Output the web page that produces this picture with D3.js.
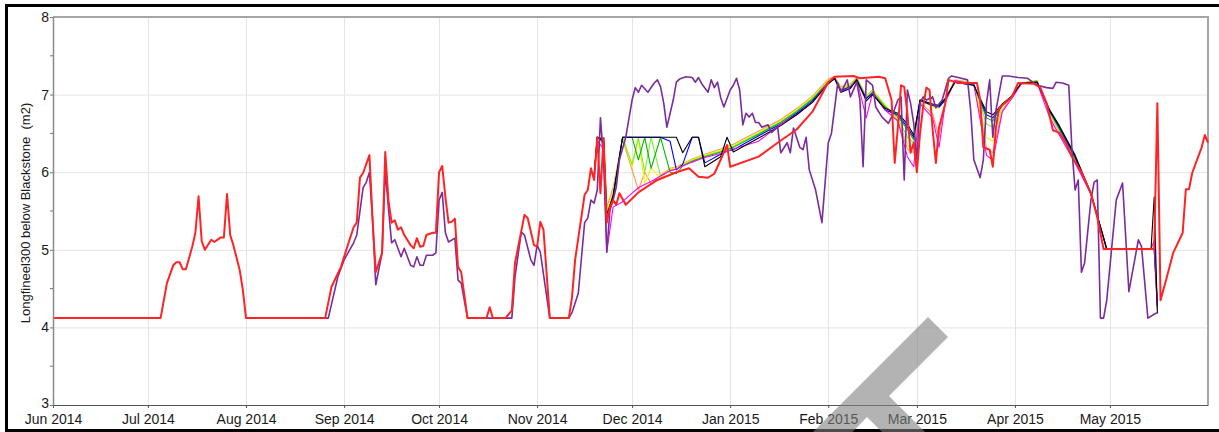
<!DOCTYPE html>
<html>
<head>
<meta charset="utf-8">
<script src="https://cdn.jsdelivr.net/npm/d3@7"></script>
<style>
  html, body { margin: 0; padding: 0; background: #fff; }
  svg { display: block; font-family: "Liberation Sans", Arial, sans-serif; }
</style>
</head>
<body>
<svg id="chart" width="1219" height="432"></svg>
<script>
// ---- data -------------------------------------------------------------
const yTickValues = [3, 4, 5, 6, 7, 8];
const yMinorTickValues = [3.5, 4.5, 5.5, 6.5, 7.5];
const yTitle = "Longfineel300 below Blackstone  (m2)";

// Observed / base run (red)
const redDates = ["2014-06-01","2014-07-05","2014-07-07","2014-07-09","2014-07-10","2014-07-11","2014-07-12","2014-07-13","2014-07-15","2014-07-16","2014-07-17","2014-07-18","2014-07-19","2014-07-21","2014-07-22","2014-07-24","2014-07-25","2014-07-26","2014-07-27","2014-07-28","2014-07-30","2014-07-31","2014-08-01","2014-08-26","2014-08-28","2014-08-31","2014-09-02","2014-09-04","2014-09-05","2014-09-06","2014-09-07","2014-09-09","2014-09-10","2014-09-11","2014-09-13","2014-09-14","2014-09-15","2014-09-16","2014-09-17","2014-09-18","2014-09-19","2014-09-20","2014-09-22","2014-09-23","2014-09-24","2014-09-25","2014-09-26","2014-09-27","2014-09-29","2014-09-30","2014-10-01","2014-10-02","2014-10-03","2014-10-04","2014-10-05","2014-10-06","2014-10-07","2014-10-08","2014-10-10","2014-10-16","2014-10-17","2014-10-18","2014-10-22","2014-10-24","2014-10-25","2014-10-28","2014-10-29","2014-10-31","2014-11-01","2014-11-02","2014-11-03","2014-11-05","2014-11-11","2014-11-12","2014-11-13","2014-11-16","2014-11-17","2014-11-18","2014-11-19","2014-11-20","2014-11-21","2014-11-22","2014-11-23","2014-11-24","2014-11-25","2014-11-26","2014-11-27","2014-11-29","2014-12-03","2014-12-09","2014-12-15","2014-12-19","2014-12-22","2014-12-25","2014-12-27","2014-12-29","2014-12-31","2015-01-01","2015-01-10","2015-01-16","2015-01-22","2015-01-27","2015-02-01","2015-02-03","2015-02-09","2015-02-11","2015-02-17","2015-02-19","2015-02-21","2015-02-22","2015-02-23","2015-02-24","2015-02-25","2015-02-26","2015-02-27","2015-02-28","2015-03-01","2015-03-02","2015-03-03","2015-03-04","2015-03-05","2015-03-06","2015-03-07","2015-03-08","2015-03-10","2015-03-11","2015-03-14","2015-03-20","2015-03-21","2015-03-22","2015-03-24","2015-03-25","2015-03-26","2015-03-27","2015-03-31","2015-04-02","2015-04-07","2015-04-09","2015-04-11","2015-04-13","2015-04-15","2015-04-17","2015-04-19","2015-04-21","2015-04-22","2015-04-25","2015-04-27","2015-04-29","2015-05-15","2015-05-16","2015-05-17","2015-05-19","2015-05-21","2015-05-24","2015-05-25","2015-05-26","2015-05-27","2015-05-30","2015-05-31","2015-06-01"];
const redValues = [4.12,4.12,4.57,4.80,4.84,4.84,4.75,4.75,5.04,5.22,5.69,5.11,5.00,5.13,5.10,5.16,5.16,5.72,5.19,5.06,4.74,4.48,4.12,4.12,4.52,4.78,5.04,5.29,5.35,5.93,5.99,6.22,5.38,4.71,4.96,6.26,5.64,5.35,5.38,5.26,5.29,5.19,5.06,5.02,5.15,5.04,5.05,5.19,5.22,5.22,6.00,6.08,5.68,5.35,5.36,5.40,4.78,4.71,4.12,4.12,4.26,4.12,4.12,4.22,4.83,5.45,5.41,5.06,5.04,5.36,5.26,4.12,4.12,4.38,4.87,5.71,5.77,6.05,5.90,6.45,5.73,6.44,5.35,5.55,5.64,5.58,5.73,5.58,5.74,5.90,6.00,6.05,5.94,5.93,5.98,6.16,6.35,6.07,6.20,6.38,6.55,6.78,7.16,7.23,7.24,7.21,7.23,7.21,6.93,6.12,6.58,7.12,7.10,6.76,6.25,6.38,6.00,6.50,6.85,7.09,7.06,6.54,6.12,6.58,6.89,7.19,7.15,7.15,6.93,6.32,6.29,6.07,6.58,6.83,6.97,7.15,7.14,7.09,6.89,6.54,6.51,6.38,6.20,6.07,6.00,5.73,5.42,5.01,5.01,6.89,4.35,4.65,4.96,5.22,5.78,5.78,5.99,6.32,6.48,6.38];

// Historical run (purple)
const purpleDates = ["2014-08-01","2014-08-27","2014-08-30","2014-09-01","2014-09-04","2014-09-05","2014-09-07","2014-09-08","2014-09-09","2014-09-10","2014-09-11","2014-09-13","2014-09-14","2014-09-15","2014-09-16","2014-09-17","2014-09-19","2014-09-20","2014-09-22","2014-09-23","2014-09-24","2014-09-25","2014-09-26","2014-09-27","2014-09-29","2014-09-30","2014-10-01","2014-10-02","2014-10-03","2014-10-04","2014-10-06","2014-10-07","2014-10-08","2014-10-10","2014-10-24","2014-10-25","2014-10-27","2014-10-28","2014-10-30","2014-10-31","2014-11-01","2014-11-02","2014-11-05","2014-11-11","2014-11-12","2014-11-14","2014-11-16","2014-11-17","2014-11-18","2014-11-19","2014-11-20","2014-11-21","2014-11-22","2014-11-23","2014-11-24","2014-11-25","2014-11-26","2014-11-27","2014-11-29","2014-12-01","2014-12-02","2014-12-03","2014-12-04","2014-12-06","2014-12-08","2014-12-09","2014-12-10","2014-12-11","2014-12-12","2014-12-14","2014-12-15","2014-12-16","2014-12-18","2014-12-20","2014-12-21","2014-12-22","2014-12-23","2014-12-25","2014-12-26","2014-12-27","2014-12-28","2014-12-29","2014-12-30","2015-01-01","2015-01-02","2015-01-03","2015-01-04","2015-01-05","2015-01-06","2015-01-07","2015-01-08","2015-01-09","2015-01-10","2015-01-11","2015-01-13","2015-01-14","2015-01-16","2015-01-17","2015-01-19","2015-01-20","2015-01-21","2015-01-23","2015-01-24","2015-01-25","2015-01-26","2015-01-28","2015-01-30","2015-02-01","2015-02-02","2015-02-04","2015-02-05","2015-02-07","2015-02-08","2015-02-10","2015-02-11","2015-02-12","2015-02-13","2015-02-15","2015-02-16","2015-02-18","2015-02-20","2015-02-21","2015-02-23","2015-02-24","2015-02-25","2015-02-26","2015-02-27","2015-02-28","2015-03-01","2015-03-02","2015-03-03","2015-03-04","2015-03-06","2015-03-07","2015-03-09","2015-03-11","2015-03-12","2015-03-15","2015-03-17","2015-03-18","2015-03-19","2015-03-21","2015-03-22","2015-03-23","2015-03-24","2015-03-25","2015-03-26","2015-03-28","2015-03-30","2015-04-02","2015-04-05","2015-04-08","2015-04-11","2015-04-13","2015-04-14","2015-04-16","2015-04-18","2015-04-19","2015-04-20","2015-04-21","2015-04-22","2015-04-23","2015-04-25","2015-04-26","2015-04-27","2015-04-28","2015-04-29","2015-04-30","2015-05-03","2015-05-05","2015-05-07","2015-05-10","2015-05-11","2015-05-13","2015-05-15","2015-05-16"];
const purpleValues = [4.12,4.12,4.65,4.87,5.09,5.19,5.80,5.87,6.00,5.38,4.55,4.96,6.03,5.54,5.09,5.13,4.91,5.02,4.80,4.78,4.91,4.80,4.80,4.93,4.93,4.96,5.64,5.74,5.22,5.10,5.15,4.61,4.57,4.12,4.12,4.65,5.23,5.19,4.87,4.80,5.06,4.97,4.12,4.12,4.19,4.44,5.35,5.41,5.64,5.60,5.77,6.70,6.16,4.97,5.51,5.64,5.81,6.16,6.45,6.93,7.09,7.03,7.12,7.03,7.15,7.19,7.10,6.89,6.58,6.93,7.16,7.20,7.23,7.22,7.16,7.22,7.14,7.03,7.19,7.09,7.16,6.96,6.84,7.06,7.12,7.21,7.06,6.61,6.76,6.71,6.76,6.64,6.64,6.58,6.61,6.51,6.58,6.25,6.38,6.25,6.57,6.32,6.29,6.45,6.03,5.77,5.35,6.38,6.50,7.15,7.03,7.19,6.97,7.16,6.93,6.07,7.19,7.12,6.84,6.71,6.63,6.71,6.93,6.97,5.90,7.06,6.89,6.63,6.16,6.89,6.97,6.93,6.97,6.83,6.93,7.21,7.24,7.21,7.19,6.80,6.16,5.93,6.16,6.89,7.19,6.45,6.80,7.24,7.24,7.22,7.21,7.12,7.09,7.08,7.16,7.15,7.12,6.30,5.77,5.90,4.71,4.83,5.64,5.87,5.90,4.12,4.12,4.35,5.64,5.86,4.46,5.13,5.04,4.12,4.17,4.19];

// Forecast ensemble members, all on one date grid
const ensembleDates = ["2014-11-19","2014-11-20","2014-11-22","2014-11-23","2014-11-25","2014-11-28","2014-12-01","2014-12-03","2014-12-05","2014-12-07","2014-12-10","2014-12-13","2014-12-15","2014-12-17","2014-12-20","2014-12-22","2014-12-24","2014-12-29","2014-12-31","2015-01-02","2015-01-10","2015-01-17","2015-01-22","2015-01-27","2015-02-01","2015-02-03","2015-02-05","2015-02-08","2015-02-10","2015-02-13","2015-02-15","2015-02-19","2015-02-23","2015-02-26","2015-02-28","2015-03-02","2015-03-06","2015-03-08","2015-03-10","2015-03-13","2015-03-19","2015-03-23","2015-03-25","2015-03-28","2015-03-31","2015-04-03","2015-04-08","2015-04-12","2015-04-15","2015-04-20","2015-04-25","2015-04-30","2015-05-14","2015-05-15","2015-05-16"];
const ensOrange  = [5.95,6.45,6.44,5.55,5.80, 6.42,6.03,5.77,6.00,5.85,5.96,6.05,6.07,6.11,6.17,6.20,6.23, 6.30,6.33,6.36,6.53,6.68,6.82,6.98,7.20, 7.23,7.10,7.14,7.22,6.98,7.06,6.86,6.66,6.30,6.25,6.90,6.75,6.45,6.92,7.19,7.15,6.32,6.25,6.80,6.97,7.15,7.18,6.75,6.52,6.15,5.72,5.01,5.01,5.01,4.22];
const ensYellow  = [5.95,6.45,6.42,5.50,5.75, 6.45,6.07,6.43,5.85,6.05,5.92,6.04,6.06,6.10,6.16,6.19,6.22, 6.28,6.31,6.34,6.51,6.66,6.80,6.96,7.18, 7.22,7.08,7.13,7.21,6.97,7.05,6.86,6.68,6.35,6.30,6.93,6.84,6.82,6.95,7.18,7.14,6.45,6.40,6.85,6.98,7.15,7.17,6.76,6.54,6.16,5.72,5.01,5.01,5.01,4.25];
const ensLime    = [5.95,6.45,6.40,5.45,5.70, 6.45,6.10,6.45,6.00,6.45,5.95,6.02,6.04,6.09,6.15,6.18,6.21, 6.27,6.30,6.33,6.50,6.65,6.79,6.95,7.17, 7.22,7.07,7.12,7.21,6.96,7.04,6.85,6.70,6.45,6.38,6.94,6.87,6.85,6.95,7.18,7.14,6.62,6.58,6.87,6.98,7.15,7.17,6.77,6.55,6.17,5.72,5.01,5.01,5.01,4.32];
const ensGreen   = [5.95,6.45,6.38,5.42,5.66, 6.45,6.45,6.16,6.45,6.05,6.45,6.00,5.98,6.08,6.14,6.17,6.20, 6.26,6.29,6.32,6.49,6.64,6.78,6.94,7.16, 7.21,7.06,7.10,7.20,6.95,7.03,6.84,6.72,6.55,6.42,6.93,6.86,6.85,6.94,7.17,7.13,6.70,6.66,6.87,6.98,7.15,7.17,6.78,6.56,6.18,5.72,5.01,5.01,5.01,4.30];
const ensBlue    = [5.95,6.45,6.40,5.40,5.68, 6.45,6.45,6.45,6.45,6.45,6.45,6.40,6.03,6.10,6.45,6.45,6.12, 6.23,6.27,6.29,6.47,6.62,6.76,6.92,7.15, 7.20,7.05,7.10,7.18,6.95,7.02,6.80,6.74,6.58,6.45,6.92,6.86,6.84,6.93,7.16,7.12,6.74,6.70,6.86,6.97,7.14,7.16,6.79,6.58,6.20,5.72,5.01,5.01,5.01,4.27];
const ensMagenta = [5.90,6.40,6.30,4.97,5.55, 5.62,5.73,5.80,5.84,5.88,5.95,6.02,6.04,6.08,6.13,6.16,6.19, 6.24,6.27,6.30,6.40,6.62,6.74,6.90,7.16, 7.22,7.04,7.09,7.20,6.70,7.02,6.80,6.66,6.20,6.07,6.88,6.70,6.32,6.90,7.18,7.13,6.22,6.15,6.78,6.95,7.14,7.15,6.70,6.48,6.12,5.72,5.01,5.01,5.12,4.28];
const ensBlack   = [5.95,6.45,6.42,5.45,5.70, 6.45,6.45,6.45,6.45,6.45,6.45,6.45,6.45,6.25,6.45,6.45,6.07, 6.20,6.45,6.26,6.44,6.60,6.74,6.90,7.14, 7.21,7.03,7.08,7.19,6.92,7.00,6.82,6.76,6.62,6.48,6.93,6.88,6.86,6.95,7.16,7.12,6.78,6.74,6.88,6.98,7.15,7.16,6.80,6.60,6.22,5.73,5.01,5.01,5.68,4.18];
const ensembleMembers = [ensOrange, ensYellow, ensLime, ensGreen, ensBlue, ensMagenta, ensBlack];
const ensembleColors = ["#ff9a3c", "#f2f200", "#7cf02a", "#00b800", "#0000ff", "#ff00ff", "#000000"];

// ---- layout -----------------------------------------------------------
const W = 1219, H = 432;
const plot = { left: 53, right: 1208, top: 17, bottom: 405 };
const parse = d3.utcParse("%Y-%m-%d");

const svg = d3.select("#chart");

const x = d3.scaleUtc()
  .domain([parse("2014-06-01"), parse("2015-06-01")])
  .range([plot.left, plot.right]);
const y = d3.scaleLinear()
  .domain([3, 8])
  .range([plot.bottom, plot.top]);

const monthTicks = d3.utcMonth.range(parse("2014-06-01"), parse("2015-06-01"));

// grid
const grid = svg.append("g");
grid.selectAll("line.gy").data(yTickValues).join("line")
  .attr("x1", plot.left).attr("x2", plot.right)
  .attr("y1", d => y(d) + 0.5).attr("y2", d => y(d) + 0.5)
  .attr("stroke", "#e4e4e4").attr("stroke-width", 1);
grid.selectAll("line.gx").data(monthTicks).join("line")
  .attr("x1", d => Math.round(x(d)) + 0.5).attr("x2", d => Math.round(x(d)) + 0.5)
  .attr("y1", plot.top).attr("y2", plot.bottom)
  .attr("stroke", "#e4e4e4").attr("stroke-width", 1);

// frame (top and right edges)
svg.append("path")
  .attr("d", `M${plot.left},${plot.top} H${plot.right} V${plot.bottom}`)
  .attr("fill", "none").attr("stroke", "#a6a6a6").attr("stroke-width", 2);

// series
const lineFor = (dates, values) => d3.line()
  .x((d, i) => x(parse(dates[i])))
  .y(d => y(d))(values);

const series = svg.append("g").attr("fill", "none").attr("stroke-linejoin", "round");
ensembleMembers.forEach((vals, k) => {
  series.append("path")
    .attr("d", lineFor(ensembleDates, vals))
    .attr("stroke", ensembleColors[k])
    .attr("stroke-width", 1.1);
});
series.append("path")
  .attr("d", lineFor(purpleDates, purpleValues))
  .attr("stroke", "#7b2c9c").attr("stroke-width", 1.6);
series.append("path")
  .attr("d", lineFor(redDates, redValues))
  .attr("stroke", "#ff2424").attr("stroke-width", 2);

// axes
const xAxis = d3.axisBottom(x)
  .tickValues(monthTicks)
  .tickFormat(d3.utcFormat("%b %Y"))
  .tickSize(3).tickSizeOuter(0).tickPadding(6);
const gx = svg.append("g").attr("transform", `translate(0,${plot.bottom})`).call(xAxis);
gx.select(".domain").attr("stroke", "#555").attr("stroke-width", 1.2);
gx.selectAll(".tick line").attr("stroke", "#555");
gx.selectAll("text").attr("font-size", 14).attr("fill", "#1a1a1a")
  .attr("font-family", "'Liberation Sans', Arial, sans-serif");

const yAxis = d3.axisLeft(y)
  .tickValues(yTickValues)
  .tickFormat(d3.format("d"))
  .tickSize(3).tickSizeOuter(0).tickPadding(1);
const gy = svg.append("g").attr("transform", `translate(${plot.left},0)`).call(yAxis);
gy.select(".domain").attr("stroke", "#8a8a8a").attr("stroke-width", 1.5);
gy.selectAll(".tick line").attr("stroke", "#777");
gy.selectAll("text").attr("font-size", 14).attr("fill", "#1a1a1a")
  .attr("font-family", "'Liberation Sans', Arial, sans-serif");
// lowest value label sits a touch higher so it clears the month labels
gy.selectAll(".tick").filter(d => d === 3).select("text").attr("dy", "0.2em");
gy.selectAll("line.minor").data(yMinorTickValues).join("line")
  .attr("class", "minor")
  .attr("x1", -3).attr("x2", 0)
  .attr("y1", d => y(d)).attr("y2", d => y(d))
  .attr("stroke", "#777");

svg.append("text")
  .attr("transform", `translate(27,${(plot.top + plot.bottom) / 2 + 2}) rotate(-90)`)
  .attr("text-anchor", "middle")
  .attr("dominant-baseline", "middle")
  .attr("font-size", 13).attr("fill", "#1a1a1a")
  .style("white-space", "pre")
  .text(yTitle);

// outer black border (top, left, bottom)
svg.append("path")
  .attr("d", `M${W},5.5 H6.5 V430.5 H${W}`)
  .attr("fill", "none").attr("stroke", "#000").attr("stroke-width", 3);

// grey angled overlay mark near the bottom axis
svg.append("polygon")
  .attr("points", "928,317 948,337 889,396 940,447 897,447 867,417 838,447 798,447")
  .attr("fill", "#808080").attr("fill-opacity", 0.6);
</script>
</body>
</html>
